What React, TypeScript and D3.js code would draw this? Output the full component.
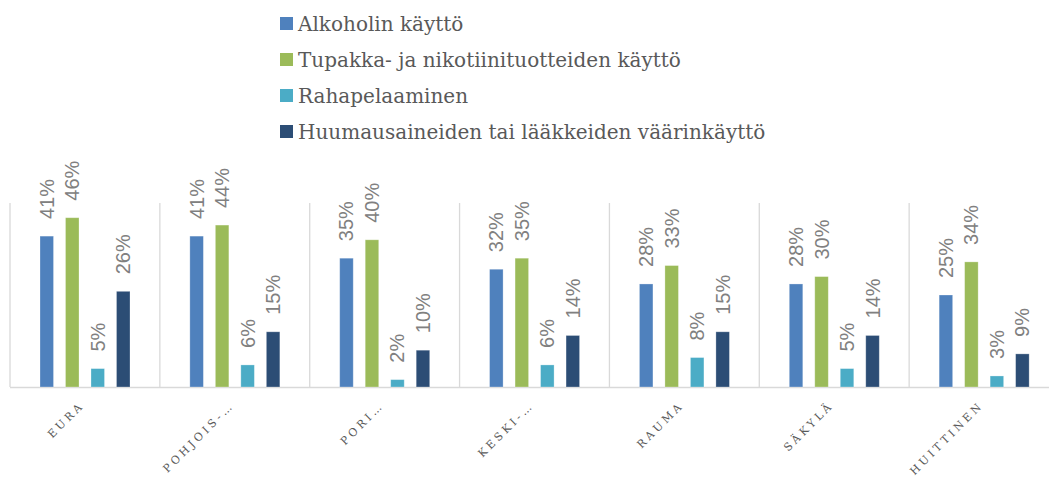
import React from "react";
import * as d3 from "d3";

const categories = ["EURA", "POHJOIS-…", "PORI…", "KESKI-…", "RAUMA", "SÄKYLÄ", "HUITTINEN"];
const seriesNames = [
  "Alkoholin käyttö",
  "Tupakka- ja nikotiinituotteiden käyttö",
  "Rahapelaaminen",
  "Huumausaineiden tai lääkkeiden väärinkäyttö",
];
const alkoholi = [41, 41, 35, 32, 28, 28, 25];
const tupakka = [46, 44, 40, 35, 33, 30, 34];
const rahapeli = [5, 6, 2, 6, 8, 5, 3];
const huumeet = [26, 15, 10, 14, 15, 14, 9];
const seriesValues = [alkoholi, tupakka, rahapeli, huumeet];
const colors = ["#4f81bd", "#9bbb59", "#4bacc6", "#2c4d75"];

const W = 1049;
const H = 487;

export default function App() {
  const x = d3.scaleBand<string>().domain(categories).range([10, 1059]).padding(0);
  const inner = d3
    .scaleBand<number>()
    .domain([0, 1, 2, 3])
    .range([30, 120])
    .paddingInner(0.47)
    .paddingOuter(0);
  const y = d3.scaleLinear().domain([0, 50]).range([387, 203]);

  return (
    <svg width={W} height={H} style={{ position: "absolute", left: 0, top: 0, background: "#fff" }}>
      {/* legend */}
      {seriesNames.map((n, i) => (
        <g key={n} transform={`translate(280, ${17 + i * 36})`}>
          <rect x={0} y={0} width={13} height={13} fill={colors[i]} />
          <text x={18} y={14} fontFamily="DejaVu Serif" fontSize={20} fill="#595959">
            {n}
          </text>
        </g>
      ))}
      {/* category dividers */}
      {categories.map((c) => (
        <line
          key={"d" + c}
          x1={x(c)!}
          x2={x(c)!}
          y1={y(50)}
          y2={y(0)}
          stroke="#d9d9d9"
          strokeWidth={1.3}
        />
      ))}
      {/* baseline */}
      <line x1={10} x2={W} y1={y(0) + 0.5} y2={y(0) + 0.5} stroke="#d9d9d9" strokeWidth={1.5} />
      {/* bars */}
      {categories.map((c, ci) =>
        seriesValues.map((vals, si) => {
          const bx = x(c)! + inner(si)!;
          const bw = inner.bandwidth();
          const v = vals[ci];
          return (
            <g key={c + si}>
              <rect
                x={bx}
                y={y(v)}
                width={bw}
                height={y(0) - y(v)}
                fill={colors[si]}
                stroke="#ffffff"
                strokeOpacity={0.35}
                strokeWidth={0.8}
              />
              <text
                transform={`translate(${bx + bw / 2 + 7}, ${y(v) - 17}) rotate(-90)`}
                fontFamily="Liberation Sans"
                fontSize={20}
                fill="#808080"
              >
                {v + "%"}
              </text>
            </g>
          );
        })
      )}
      {/* x labels */}
      {categories.map((c) => (
        <text
          key={"l" + c}
          transform={`translate(${x(c)! + x.bandwidth() / 2}, 406) rotate(-45)`}
          textAnchor="end"
          fontFamily="DejaVu Serif"
          fontSize={11}
          letterSpacing={3.2}
          fill="#595959"
        >
          {c}
        </text>
      ))}
    </svg>
  );
}
